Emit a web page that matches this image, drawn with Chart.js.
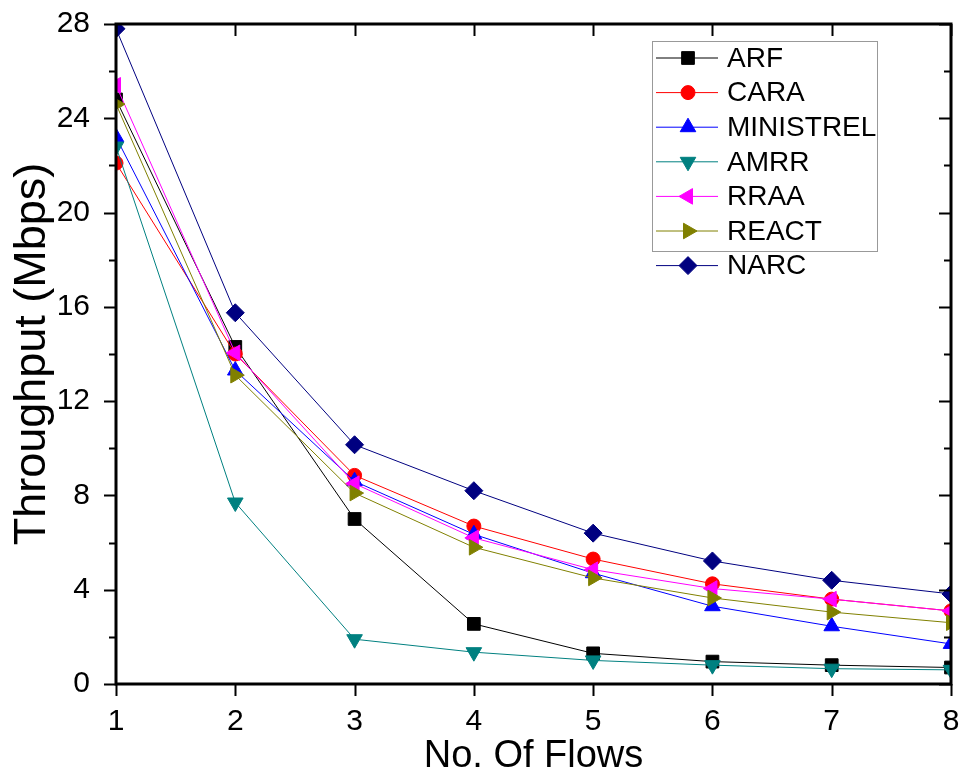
<!DOCTYPE html>
<html>
<head>
<meta charset="utf-8">
<script src="https://cdn.jsdelivr.net/npm/chart.js@4.4.1/dist/chart.umd.min.js"></script>
<style>
  html, body { margin: 0; padding: 0; background: #fff; }
  #wrap { width: 963px; height: 779px; }
</style>
</head>
<body>
<div id="wrap"><canvas id="chart" width="963" height="779"></canvas></div>
<script>
// --- data ---
const flows = [1, 2, 3, 4, 5, 6, 7, 8];
const arf       = [24.8, 14.3, 7.0, 2.55, 1.3, 0.95, 0.8, 0.7];
const cara      = [22.1, 14.0, 8.85, 6.7, 5.3, 4.25, 3.6, 3.1];
const ministrel = [23.2, 13.3, 8.6, 6.35, 4.7, 3.3, 2.45, 1.7];
const amrr      = [22.8, 7.7, 1.9, 1.35, 1.0, 0.8, 0.65, 0.6];
const rraa      = [25.4, 14.05, 8.5, 6.2, 4.85, 4.05, 3.6, 3.1];
const react     = [24.6, 13.1, 8.1, 5.8, 4.5, 3.65, 3.05, 2.6];
const narc      = [27.8, 15.75, 10.15, 8.2, 6.4, 5.22, 4.4, 3.82];
const yTicks = [0, 4, 8, 12, 16, 20, 24, 28];

const FONT = '"Liberation Sans", Arial, sans-serif';

// name, values, colour, marker, rotation, radius
const seriesDefs = [
    ['ARF', arf, '#000000', 'rect', 0, 9],
    ['CARA', cara, '#ff0000', 'circle', 0, 7],
    ['MINISTREL', ministrel, '#0000ff', 'triangle', 0, 9],
    ['AMRR', amrr, '#008080', 'triangle', 180, 9],
    ['RRAA', rraa, '#ff00ff', 'triangle', -90, 9],
    ['REACT', react, '#808000', 'triangle', 90, 9],
    ['NARC', narc, '#000080', 'rectRot', 0, 9]
];

const datasets = seriesDefs.map((s, i) => ({
    label: s[0],
    data: flows.map((f, k) => ({ x: f, y: s[1][k] })),
    borderColor: s[2],
    backgroundColor: s[2],
    borderWidth: 1,
    pointStyle: s[3],
    rotation: s[4],
    pointRadius: s[5],
    pointHoverRadius: s[5],
    pointBorderWidth: 1,
    pointBackgroundColor: s[2],
    pointBorderColor: s[2],
    tension: 0,
    clip: 0,
    order: seriesDefs.length - i
}));

// frame, ticks and legend box, drawn like the Origin plot
const framePlugin = {
    id: 'frame',
    afterDraw(chart) {
        const { ctx, chartArea: a, scales } = chart;
        const xs = scales.x, ys = scales.y;
        ctx.save();
        ctx.strokeStyle = '#000';
        ctx.lineWidth = 2;
        // y ticks: major every 4, minor every 2
        for (let v = 0; v <= 28; v += 2) {
            const y = Math.round(ys.getPixelForValue(v)) + 0.5;
            const len = v % 4 === 0 ? 12 : 7;
            ctx.beginPath();
            ctx.moveTo(a.left - len, y); ctx.lineTo(a.left, y);
            ctx.moveTo(a.right, y); ctx.lineTo(a.right - len, y);
            ctx.stroke();
        }
        flows.forEach(f => {
            const x = Math.round(xs.getPixelForValue(f)) + 0.5;
            ctx.beginPath();
            ctx.moveTo(x, a.bottom); ctx.lineTo(x, a.bottom + 12);
            ctx.moveTo(x, a.top); ctx.lineTo(x, a.top + 12);
            ctx.stroke();
        });
        ctx.lineWidth = 3;
        ctx.strokeRect(a.left, a.top, a.right - a.left, a.bottom - a.top);

        // legend
        const lx = 652, ly = 41, lw = 225, lh = 210;
        ctx.lineWidth = 1;
        ctx.strokeStyle = '#999';
        ctx.strokeRect(lx + 0.5, ly + 0.5, lw, lh);
        ctx.font = '28px ' + FONT;
        ctx.textBaseline = 'middle';
        ctx.textAlign = 'left';
        chart.data.datasets.forEach((ds, i) => {
            const y = 58 + i * 34.6;
            ctx.strokeStyle = ds.borderColor;
            ctx.lineWidth = 1;
            ctx.beginPath();
            ctx.moveTo(656, y); ctx.lineTo(718, y);
            ctx.stroke();
            ctx.fillStyle = ds.pointBackgroundColor;
            Chart.helpers.drawPoint(ctx, {
                pointStyle: ds.pointStyle, rotation: ds.rotation,
                radius: ds.pointRadius, borderWidth: 1
            }, 688, y);
            ctx.fillStyle = '#000';
            ctx.fillText(ds.label, 727, y + 1);
        });
        ctx.restore();
    }
};

new Chart(document.getElementById('chart'), {
    type: 'line',
    data: { datasets: datasets },
    plugins: [framePlugin],
    options: {
        responsive: false,
        animation: false,
        layout: { padding: { top: 24, right: 12, left: 0, bottom: 0 } },
        plugins: { legend: { display: false }, tooltip: { enabled: false } },
        scales: {
            x: {
                type: 'linear', min: 1, max: 8,
                grid: { display: false }, border: { display: false },
                afterBuildTicks: s => { s.ticks = flows.map(v => ({ value: v })); },
                ticks: { color: '#000', font: { family: FONT, size: 30 }, padding: 12, maxRotation: 0 },
                title: { display: true, text: 'No. Of Flows', color: '#000',
                         font: { family: FONT, size: 38, lineHeight: 1.2 }, padding: { top: 0, bottom: 0 } },
                afterFit: s => { s.height = 95; s.paddingLeft = 0; s.paddingRight = 0; }
            },
            y: {
                type: 'linear', min: 0, max: 28,
                grid: { display: false }, border: { display: false },
                afterBuildTicks: s => { s.ticks = yTicks.map(v => ({ value: v })); },
                ticks: { color: '#000', font: { family: FONT, size: 30 }, padding: 18 },
                title: { display: true, text: 'Throughput (Mbps)', color: '#000',
                         font: { family: FONT, size: 45, lineHeight: 1.2 }, padding: { top: 6, bottom: 0 } },
                afterFit: s => { s.width = 116; s.paddingTop = 0; s.paddingBottom = 0; }
            }
        }
    }
});
</script>
</body>
</html>
